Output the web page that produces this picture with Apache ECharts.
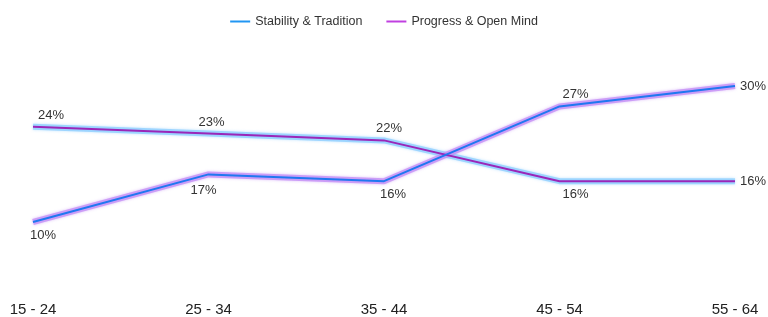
<!DOCTYPE html>
<html><head><meta charset="utf-8">
<script src="https://cdn.jsdelivr.net/npm/echarts@6/dist/echarts.min.js"></script>
<style>html,body{margin:0;padding:0;background:#fff}#c{width:768px;height:317px}</style>
</head><body><div id="c"></div>
<script>
const categories = ['15 - 24','25 - 34','35 - 44','45 - 54','55 - 64'];
const stability = [24, 23, 22, 16, 16];
const progress = [10, 17, 16, 27, 30];
const stabilityLabelPos = ['top','top','top','bottom','right'];
const progressLabelPos = ['bottom','bottom','bottom','top','right'];
const stabilityOffsets = [[18,0],[3,0],[5,0],[16,2],[0,0]];
const progressOffsets = [[10,2],[-5,5],[9,2],[16,0],[0,0]];

function mk(vals, pos, offs){
  return vals.map((v,i)=>({value:v, label:{position:pos[i], offset:offs[i]}}));
}
const font = 'Liberation Sans, Arial, sans-serif';
const chart = echarts.init(document.getElementById('c'));
const glow = (name, vals, color) => ({
  name: name, type:'line', symbol:'none', silent:true, z:1,
  data: vals,
  lineStyle:{color:color, width:6, shadowColor:color, shadowBlur:3},
  label:{show:false}, tooltip:{show:false}
});
chart.setOption({
  animation:false,
  legend:{
    top:10, left:'center', itemWidth:20, itemHeight:2, itemGap:24,
    icon:'rect',
    textStyle:{fontFamily:font, fontSize:12.5, color:'#333'},
    data:[
      {name:'Stability & Tradition', itemStyle:{color:'#2196f3', opacity:1}},
      {name:'Progress & Open Mind', itemStyle:{color:'#c040e0', opacity:1}}
    ]
  },
  grid:{left:33, right:33, top:52, bottom:26},
  xAxis:{
    type:'category', data:categories, boundaryGap:false,
    axisLine:{show:false}, axisTick:{show:false},
    axisLabel:{fontFamily:font, fontSize:15, color:'#222', margin:12}
  },
  yAxis:{type:'value', min:0, max:35, show:false, splitLine:{show:false}},
  series:[
    glow('stabGlow', stability, 'rgba(140,205,255,0.75)'),
    glow('progGlow', progress, 'rgba(195,140,245,0.75)'),
    {
      name:'Stability & Tradition', type:'line', symbol:'circle', symbolSize:0, showSymbol:true, z:3,
      data:mk(stability, stabilityLabelPos, stabilityOffsets),
      itemStyle:{color:'#2196f3', opacity:0},
      lineStyle:{color:'#9b27b8', width:2},
      label:{show:true, formatter:'{c}%', fontFamily:font, fontSize:13, color:'#333', distance:5, opacity:1}
    },
    {
      name:'Progress & Open Mind', type:'line', symbol:'circle', symbolSize:0, showSymbol:true, z:3,
      data:mk(progress, progressLabelPos, progressOffsets),
      itemStyle:{color:'#c040e0', opacity:0},
      lineStyle:{color:'#1f78f0', width:2},
      label:{show:true, formatter:'{c}%', fontFamily:font, fontSize:13, color:'#333', distance:5, opacity:1}
    }
  ]
});
</script></body></html>
